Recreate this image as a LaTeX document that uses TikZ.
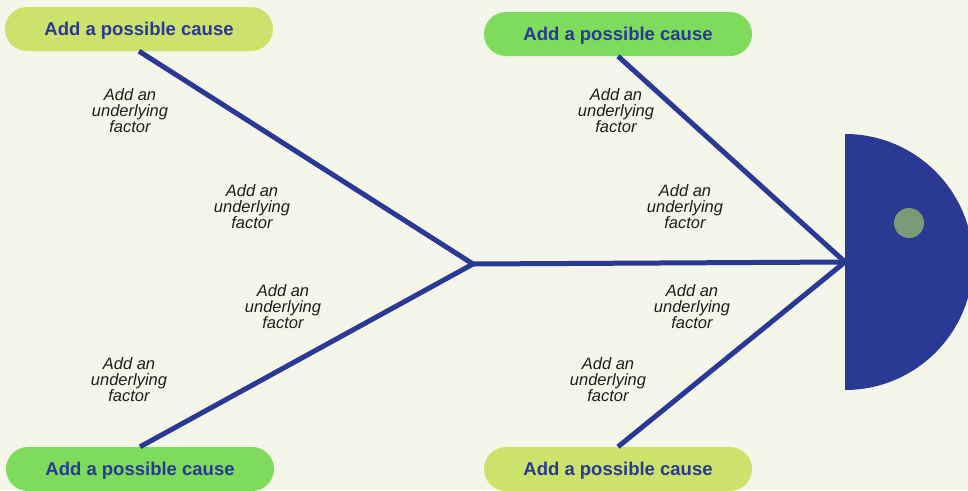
\documentclass[tikz,border=0pt]{standalone}
\usepackage{fontspec}
\setmainfont{Liberation Sans}
\definecolor{bgcol}{RGB}{245,246,234}
\definecolor{navy}{RGB}{42,57,148}
\definecolor{limecol}{RGB}{205,226,106}
\definecolor{greencol}{RGB}{126,219,91}
\definecolor{eyecol}{RGB}{122,154,120}
\definecolor{txtcol}{RGB}{30,30,30}
\begin{document}
\begin{tikzpicture}[x=1pt,y=-1pt,
  pill/.style={rounded corners=22pt,minimum width=268pt,minimum height=44pt,inner sep=0pt,
    text depth=0pt,font=\fontsize{18.5}{20}\selectfont\bfseries,text=navy},
  factor/.style={align=center,font=\fontsize{16.5}{16}\selectfont\itshape,text=txtcol,inner sep=0pt},
  bone/.style={draw=navy,line width=5pt,line join=miter}]
\useasboundingbox (0,0) rectangle (968,490);
\fill[bgcol] (0,0) rectangle (968,490);
\begin{scope}
\clip (0,0) rectangle (968,490);
% head
\fill[navy] (845,134) arc[start angle=-90,end angle=90,radius=128] -- cycle;
\fill[eyecol] (909,223) circle[radius=15];
% pills
\node[pill,fill=limecol] (tl) at (139,29) {Add a possible cause};
\node[pill,fill=greencol] (tr) at (618,34) {Add a possible cause};
\node[pill,fill=greencol] (bl) at (140,469) {Add a possible cause};
\node[pill,fill=limecol] (br) at (618,469) {Add a possible cause};
\coordinate (J) at (473,264);
\coordinate (H) at (845,262);
% bones
\draw[bone] (tl.south) -- (J) -- (bl.north);
\draw[bone] (J) -- (H);
\draw[bone] (tr.south) -- (H) -- (br.north);
\end{scope}
% factors
\node[factor] (f1) at (130,111) {Add an\\underlying\\factor};
\node[factor] (f2) at (252,207) {Add an\\underlying\\factor};
\node[factor] (f3) at (283,307) {Add an\\underlying\\factor};
\node[factor] (f4) at (129,380) {Add an\\underlying\\factor};
\node[factor] (f5) at (616,111) {Add an\\underlying\\factor};
\node[factor] (f6) at (685,207) {Add an\\underlying\\factor};
\node[factor] (f7) at (692,307) {Add an\\underlying\\factor};
\node[factor] (f8) at (608,380) {Add an\\underlying\\factor};
\end{tikzpicture}
\end{document}
